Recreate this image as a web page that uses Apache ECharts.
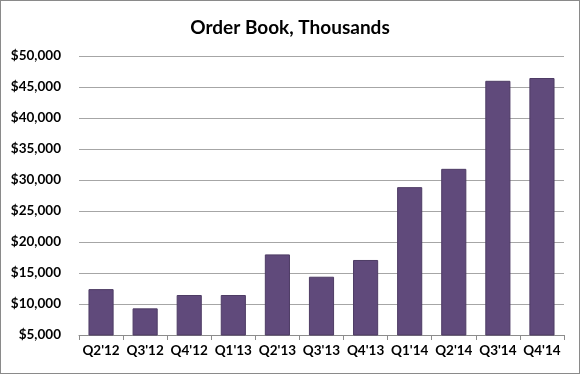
<!DOCTYPE html>
<html><head><meta charset="utf-8">
<script src="https://cdn.jsdelivr.net/npm/echarts@6/dist/echarts.min.js"></script>
<style>html,body{margin:0;padding:0;background:#fff}#c{width:578px;height:372px;border:1px solid #8a8a8a}</style>
</head><body><div id="c"></div>
<script>
const categories = ["Q2'12","Q3'12","Q4'12","Q1'13","Q2'13","Q3'13","Q4'13","Q1'14","Q2'14","Q3'14","Q4'14"];
const orderBook = [12400, 9300, 11450, 11450, 18000, 14400, 17100, 28850, 31800, 46000, 46450];
const yTicks = [5000, 50000, 5000]; // min, max, interval

const chart = echarts.init(document.getElementById('c'));
chart.setOption({
  animation: false,
  title: {text: 'Order Book, Thousands', left: 'center', top: 12,
    textStyle: {fontFamily: 'Lato', fontWeight: 'bold', fontSize: 19, color: '#000'}},
  grid: {left: 78, right: 15, top: 55, bottom: 38},
  xAxis: {type: 'category', data: categories,
    axisLine: {lineStyle: {color: '#8c8c8c'}},
    axisTick: {show: true, length: 5, lineStyle: {color: '#8c8c8c'}},
    axisLabel: {interval: 0, fontFamily: 'Lato', fontWeight: 'bold', fontSize: 13.5, color: '#000', margin: 9}},
  yAxis: {type: 'value', min: yTicks[0], max: yTicks[1], interval: yTicks[2],
    axisLine: {show: false}, axisTick: {show: false},
    splitLine: {lineStyle: {color: '#a6a6a6'}},
    axisLabel: {fontFamily: 'Lato', fontWeight: 'bold', fontSize: 13.5, color: '#000', margin: 18,
      formatter: v => '$' + v.toLocaleString('en-US')}},
  series: [{type: 'bar', data: orderBook, barCategoryGap: '43%',
    itemStyle: {color: '#604a7b', borderColor: '#4e3c65', borderWidth: 1}}]
});
</script></body></html>
